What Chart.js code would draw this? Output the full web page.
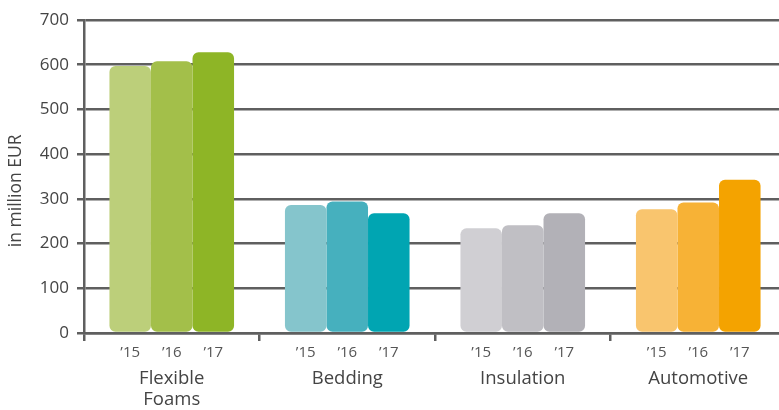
<!DOCTYPE html>
<html>
<head>
<meta charset="utf-8">
<script src="https://cdn.jsdelivr.net/npm/chart.js@4"></script>
<style>
  html, body { margin: 0; padding: 0; background: #fff; overflow: hidden; }
  #wrap { width: 779px; height: 410px; overflow: hidden; }
  #box { width: 786px; height: 410px; }
</style>
</head>
<body>
<div id="wrap"><div id="box"><canvas id="myChart"></canvas></div></div>
<script>
var categories = [['Flexible', 'Foams'], 'Bedding', 'Insulation', 'Automotive']
var years = ['\u201915', '\u201916', '\u201917']
var sales15 = [597, 286, 234, 277]
var sales16 = [608, 294, 241, 292]
var sales17 = [628, 268, 268, 343]
var colors15 = ['#bccf7a', '#85c5cc', '#d0cfd3', '#f9c56e']
var colors16 = ['#a3bf4a', '#46b0be', '#c0bfc4', '#f7b236']
var colors17 = ['#8eb526', '#00a5b2', '#b2b1b7', '#f4a300']
var yTicks = [0, 100, 200, 300, 400, 500, 600, 700]
var yTitle = 'in million EUR'

var fontFamily = '"Open Sans", "Noto Sans", sans-serif'
var axisColor = '#5f5f5f'

// year labels under each bar + the rotated y title
var extraText = {
    id: 'extraText',
    afterDraw: function(chart){
        var ctx = chart.ctx
        var xs = chart.scales.x
        var ys = chart.scales.y
        ctx.save()
        ctx.font = '15px ' + fontFamily
        ctx.fillStyle = '#555'
        ctx.textAlign = 'center'
        ctx.textBaseline = 'middle'
        chart.data.datasets.forEach(function(ds, i){
            chart.getDatasetMeta(i).data.forEach(function(bar){
                ctx.fillText(years[i], bar.x, xs.top + 20)
            })
        })
        ctx.translate(16, ys.getPixelForValue(318))
        ctx.rotate(-Math.PI / 2)
        ctx.font = '17.5px ' + fontFamily
        ctx.fillStyle = '#444'
        ctx.fillText(yTitle, 0, 0)
        ctx.restore()
    }
}

document.addEventListener("DOMContentLoaded", function() {
    var ctx = document.getElementById('myChart').getContext('2d')
    var myChart = new Chart(ctx, {
        type: 'bar',
        data: {
            labels: categories,
            datasets: [
                { label: years[0], data: sales15, backgroundColor: colors15 },
                { label: years[1], data: sales16, backgroundColor: colors16 },
                { label: years[2], data: sales17, backgroundColor: colors17 }
            ]
        },
        options: {
            responsive: true,
            maintainAspectRatio: false,
            animation: false,
            layout: { padding: { top: 20, left: 0, right: 0, bottom: 0 } },
            datasets: {
                bar: {
                    barPercentage: 1,
                    categoryPercentage: 0.71,
                    borderRadius: 6,
                    borderSkipped: false,
                    borderWidth: 0
                }
            },
            plugins: {
                legend: { display: false },
                tooltip: { enabled: false }
            },
            scales: {
                x: {
                    grid: {
                        offset: true,
                        drawOnChartArea: false,
                        drawTicks: true,
                        tickLength: 8,
                        color: axisColor,
                        lineWidth: 2.5
                    },
                    border: { color: axisColor, width: 2.5 },
                    ticks: {
                        color: '#444',
                        font: { family: fontFamily, size: 18.5, lineHeight: 1.15 },
                        padding: 27,
                        maxRotation: 0,
                        autoSkip: false
                    },
                    afterFit: function(scale){ scale.height = 77 }
                },
                y: {
                    min: 0,
                    max: 700,
                    afterBuildTicks: function(scale){
                        scale.ticks = yTicks.map(function(v){ return { value: v } })
                    },
                    grid: {
                        color: axisColor,
                        lineWidth: 2.5,
                        drawTicks: true,
                        tickLength: 7
                    },
                    border: { color: axisColor, width: 2.5 },
                    ticks: {
                        color: '#444',
                        font: { family: fontFamily, size: 17 },
                        padding: 8
                    },
                    afterFit: function(scale){ scale.width = 84 }
                }
            }
        },
        plugins: [extraText]
    })
})
</script>
</body>
</html>
